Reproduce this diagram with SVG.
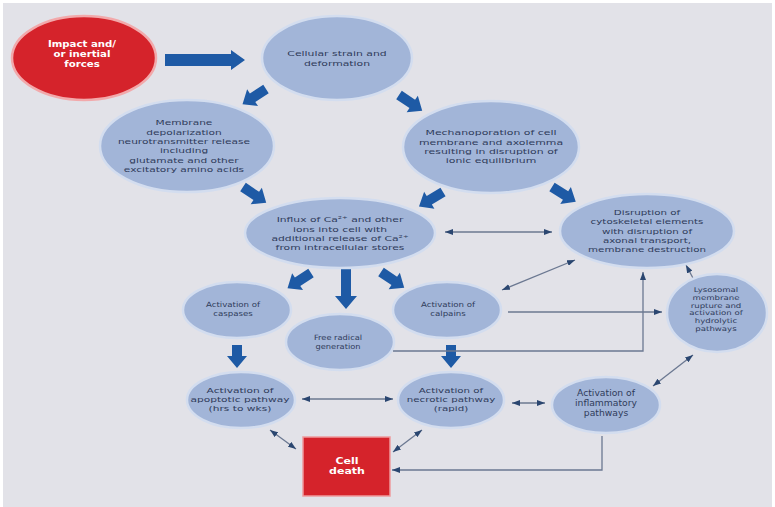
<svg xmlns="http://www.w3.org/2000/svg" width="775" height="507" viewBox="0 0 775 507">
  <defs>
    <style>
      .bg { fill: #e2e2e8; }
      .node { fill: #a2b5d8; stroke: #d3ddef; stroke-width: 2.5; }
      .hot { fill: #d5232b; stroke: #f2a9ab; stroke-width: 2.5; }
      .blk { fill: #1e5aa5; }
      .lnk { fill: none; stroke: #6b7891; stroke-width: 1.3; }
      .both { marker-start: url(#tip); marker-end: url(#tip); }
      .one { marker-end: url(#tip); }
      text { font-family: "DejaVu Sans", "Liberation Sans", sans-serif; text-anchor: middle; fill: #2f3b5a; }
      .t78 { font-size: 7.8px; }
      .t76 { font-size: 7.6px; }
      .t85 { font-size: 8.4px; }
      .t72 { font-size: 7.2px; }
      .t66 { font-size: 6.6px; }
      .wt { fill: #ffffff; font-weight: bold; }
    </style>
    <marker id="tip" viewBox="0 0 8 6" refX="8" refY="3" markerWidth="8" markerHeight="6" markerUnits="userSpaceOnUse" orient="auto-start-reverse">
      <path d="M0,0 L8,3 L0,6 Z" fill="#2a4670"/>
    </marker>
  </defs>

  <rect width="775" height="507" fill="#ffffff"/>
  <rect class="bg" x="3" y="3" width="769" height="504"/>

  <!-- thick flow arrows and thin links -->
  <g id="connectors">
    <path class="blk" d="M0,-6 H66 V-10 L80,0 L66,10 V6 H0 Z" transform="translate(165,60)"/>
    <path class="blk" d="M0,-5 H16 V-10 L28,0 L16,10 V5 H0 Z" transform="translate(266,89) rotate(147)"/>
    <path class="blk" d="M0,-5 H16 V-10 L28,0 L16,10 V5 H0 Z" transform="translate(399,95) rotate(34)"/>
    <path class="blk" d="M0,-5 H16 V-10 L28,0 L16,10 V5 H0 Z" transform="translate(243,187) rotate(34)"/>
    <path class="blk" d="M0,-5 H16 V-10 L28,0 L16,10 V5 H0 Z" transform="translate(443,192) rotate(149)"/>
    <path class="blk" d="M0,-5 H16 V-10 L28,0 L16,10 V5 H0 Z" transform="translate(552,187) rotate(32)"/>
    <path class="blk" d="M0,-5 H16 V-10 L28,0 L16,10 V5 H0 Z" transform="translate(311,273) rotate(147)"/>
    <path class="blk" d="M0,-5 H16 V-10 L28,0 L16,10 V5 H0 Z" transform="translate(381,272) rotate(34)"/>
    <path class="blk" d="M0,-5 H27 V-11 L40,0 L27,11 V5 H0 Z" transform="translate(346,269) rotate(90)"/>
    <path class="blk" d="M0,-5 H11 V-10 L23,0 L11,10 V5 H0 Z" transform="translate(237,345) rotate(90)"/>
    <path class="blk" d="M0,-5 H11 V-10 L23,0 L11,10 V5 H0 Z" transform="translate(451,345) rotate(90)"/>

    <path class="lnk both" d="M445,232 H552"/>
    <path class="lnk both" d="M502,290 L575,260"/>
    <path class="lnk one" d="M508,312 H662"/>
    <path class="lnk one" d="M393,351 H643 V272"/>
    <path class="lnk one" d="M694,280 L686,265"/>
    <path class="lnk both" d="M693,355 L653,386"/>
    <path class="lnk both" d="M302,399 H393"/>
    <path class="lnk both" d="M512,403 H545"/>
    <path class="lnk both" d="M270,430 L296,449"/>
    <path class="lnk both" d="M422,430 L393,452"/>
    <path class="lnk one" d="M602,436 V470 H392"/>
  </g>

  <g id="impact">
    <ellipse class="hot" cx="84" cy="58" rx="72" ry="42"/>
    <g transform="translate(82,0) scale(1.2,1)" class="wt">
      <text class="wt" style="font-size:8.5px" y="47">Impact and/</text>
      <text class="wt" style="font-size:8.5px" y="57">or inertial</text>
      <text class="wt" style="font-size:8.5px" y="67">forces</text>
    </g>
  </g>

  <g id="strain">
    <ellipse class="node" cx="337" cy="58" rx="75" ry="42"/>
    <g transform="translate(337,0) scale(1.39,1)">
      <text class="t78" y="56.5">Cellular strain and</text>
      <text class="t78" y="65.8">deformation</text>
    </g>
  </g>

  <g id="depolarization">
    <ellipse class="node" cx="187" cy="146" rx="87" ry="46"/>
    <g transform="translate(184,0) scale(1.36,1)">
      <text class="t78" y="125.5">Membrane</text>
      <text class="t78" y="134.8">depolarization</text>
      <text class="t78" y="144.1">neurotransmitter release</text>
      <text class="t78" y="153.4">including</text>
      <text class="t78" y="162.7">glutamate and other</text>
      <text class="t78" y="172">excitatory amino acids</text>
    </g>
  </g>

  <g id="mechanoporation">
    <ellipse class="node" cx="491" cy="147" rx="88" ry="46"/>
    <g transform="translate(491,0) scale(1.4,1)">
      <text class="t78" y="135.5">Mechanoporation of cell</text>
      <text class="t78" y="144.8">membrane and axolemma</text>
      <text class="t78" y="154.1">resulting in disruption of</text>
      <text class="t78" y="163.4">ionic equilibrium</text>
    </g>
  </g>

  <g id="influx">
    <ellipse class="node" cx="340" cy="233" rx="95" ry="35"/>
    <g transform="translate(340,0) scale(1.38,1)">
      <text class="t78" y="222.5">Influx of Ca²⁺ and other</text>
      <text class="t78" y="231.8">ions into cell with</text>
      <text class="t78" y="241.1">additional release of Ca²⁺</text>
      <text class="t78" y="250.4">from intracellular stores</text>
    </g>
  </g>

  <g id="cytoskeleton">
    <ellipse class="node" cx="647" cy="231" rx="87" ry="37"/>
    <g transform="translate(647,0) scale(1.32,1)">
      <text class="t78" y="215">Disruption of</text>
      <text class="t78" y="224.3">cytoskeletal elements</text>
      <text class="t78" y="233.6">with disruption of</text>
      <text class="t78" y="242.9">axonal transport,</text>
      <text class="t78" y="252.2">membrane destruction</text>
    </g>
  </g>

  <g id="caspases">
    <ellipse class="node" cx="237" cy="310" rx="54" ry="28"/>
    <g transform="translate(233,0) scale(1.2,1)">
      <text class="t72" y="307.5">Activation of</text>
      <text class="t72" y="316.2">caspases</text>
    </g>
  </g>

  <g id="radicals">
    <ellipse class="node" cx="340" cy="342" rx="54" ry="28"/>
    <g transform="translate(338,0) scale(1.15,1)">
      <text class="t72" y="340.5">Free radical</text>
      <text class="t72" y="349.5">generation</text>
    </g>
  </g>

  <g id="calpains">
    <ellipse class="node" cx="447" cy="310" rx="54" ry="28"/>
    <g transform="translate(448,0) scale(1.2,1)">
      <text class="t72" y="307.5">Activation of</text>
      <text class="t72" y="316.2">calpains</text>
    </g>
  </g>

  <g id="lysosomal">
    <ellipse class="node" cx="717" cy="313" rx="50" ry="39"/>
    <g transform="translate(716,0) scale(1.3,1)">
      <text class="t66" y="292">Lysosomal</text>
      <text class="t66" y="299.8">membrane</text>
      <text class="t66" y="307.6">rupture and</text>
      <text class="t66" y="315.4">activation of</text>
      <text class="t66" y="323.2">hydrolytic</text>
      <text class="t66" y="331">pathways</text>
    </g>
  </g>

  <g id="apoptotic">
    <ellipse class="node" cx="241" cy="400" rx="54" ry="28"/>
    <g transform="translate(240,0) scale(1.4,1)">
      <text class="t76" y="393">Activation of</text>
      <text class="t76" y="402">apoptotic pathway</text>
      <text class="t76" y="411">(hrs to wks)</text>
    </g>
  </g>

  <g id="necrotic">
    <ellipse class="node" cx="451" cy="400" rx="53" ry="28"/>
    <g transform="translate(451,0) scale(1.35,1)">
      <text class="t76" y="393">Activation of</text>
      <text class="t76" y="402">necrotic pathway</text>
      <text class="t76" y="411">(rapid)</text>
    </g>
  </g>

  <g id="inflammatory">
    <ellipse class="node" cx="606" cy="405" rx="54" ry="28"/>
    <g transform="translate(606,0) scale(1.1,1)">
      <text class="t85" y="396.5">Activation of</text>
      <text class="t85" y="406.3">inflammatory</text>
      <text class="t85" y="416.1">pathways</text>
    </g>
  </g>

  <g id="death">
    <rect x="303" y="437" width="87" height="59" fill="#d5232b" stroke="#ee9a9d" stroke-width="1.5"/>
    <g transform="translate(347,0) scale(1.25,1)">
      <text class="wt" style="font-size:8.8px" y="464">Cell</text>
      <text class="wt" style="font-size:8.8px" y="474.5">death</text>
    </g>
  </g>
</svg>
